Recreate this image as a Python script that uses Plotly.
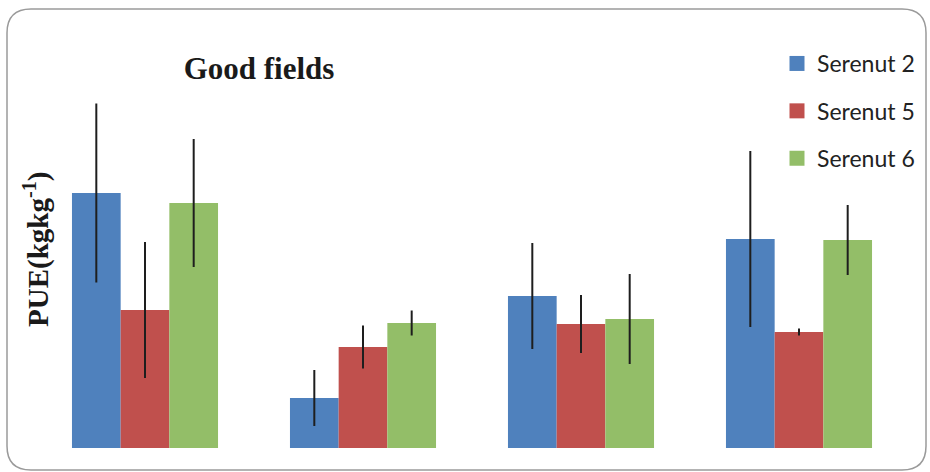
import plotly.graph_objects as go

categories = ["1", "2", "3", "4"]
serenut2 = [25.5, 5.0, 15.2, 20.9]
serenut5 = [13.8, 10.1, 12.4, 11.6]
serenut6 = [24.5, 12.5, 12.9, 20.8]
err2 = [8.95, 2.8, 5.3, 8.8]
err5 = [6.8, 2.15, 2.9, 0.35]
err6 = [6.4, 1.25, 4.5, 3.5]
series_names = ["Serenut 2", "Serenut 5", "Serenut 6"]
colors = ["#4F81BD", "#C0504D", "#93BE68"]

W, H = 930, 472
ML, MR, MT, MB = 36, 22, 20, 24
PW, PH = W - ML - MR, H - MT - MB


def px_x(px):
    return (px - ML) / PW


def px_y(py):
    return (H - MB - py) / PH


fig = go.Figure()
for i, (name, vals, errs) in enumerate(zip(series_names, [serenut2, serenut5, serenut6], [err2, err5, err6])):
    fig.add_trace(go.Bar(
        name=name, x=categories, y=vals, legendgroup=name, showlegend=False,
        marker=dict(color=colors[i], line=dict(width=0)),
        error_y=dict(type="data", array=errs, visible=True, width=0, thickness=2, color="#1e1e1e"),
    ))
    # legend entry (square swatch) for the series
    fig.add_trace(go.Scatter(
        name=name, x=[None], y=[None], mode="markers", legendgroup=name, showlegend=True,
        marker=dict(symbol="square", size=15, color=colors[i], line=dict(width=0)),
        hoverinfo="skip",
    ))

# rounded border
x0, x1 = px_x(7), px_x(926)
y0, y1 = px_y(470), px_y(9)
rx, ry = 24 / PW, 24 / PH
path = (f"M{x0+rx},{y1} L{x1-rx},{y1} Q{x1},{y1} {x1},{y1-ry} "
        f"L{x1},{y0+ry} Q{x1},{y0} {x1-rx},{y0} L{x0+rx},{y0} Q{x0},{y0} {x0},{y0+ry} "
        f"L{x0},{y1-ry} Q{x0},{y1} {x0+rx},{y1} Z")
fig.add_shape(type="path", path=path, xref="paper", yref="paper",
              line=dict(color="#9a9a9a", width=1.5), layer="below")

fig.add_annotation(text="PUE(kgkg<sup>-1</sup>)", textangle=-90, xref="paper", yref="paper",
                   x=px_x(36), y=px_y(249), xanchor="center", yanchor="middle", showarrow=False,
                   font=dict(family="Liberation Serif", size=29, color="#1a1a1a", weight="bold"))

fig.update_layout(
    width=W, height=H,
    margin=dict(l=ML, r=MR, t=MT, b=MB, autoexpand=False),
    paper_bgcolor="white", plot_bgcolor="white",
    barmode="group", bargap=0.33, bargroupgap=0,
    title=dict(text="Good fields", xref="paper", x=px_x(259), xanchor="center",
               y=1 - 68 / H, yanchor="middle",
               font=dict(family="Liberation Serif", size=31, color="#1a1a1a", weight="bold")),
    xaxis=dict(range=[-0.5, 3.5], showticklabels=False, showgrid=False, zeroline=False, showline=False, ticks=""),
    yaxis=dict(range=[0, PH / 10], showticklabels=False, showgrid=False, zeroline=False, showline=False, ticks=""),
    showlegend=True,
    legend=dict(x=px_x(777), y=px_y(42), xanchor="left", yanchor="top",
                font=dict(family="Lato", size=23, color="#222222"),
                tracegroupgap=14.5, bgcolor="rgba(0,0,0,0)", itemclick=False),
)

fig.write_html("out.html", config={"displayModeBar": False},
               post_script="document.body.style.margin='0';document.body.style.overflow='hidden';")
